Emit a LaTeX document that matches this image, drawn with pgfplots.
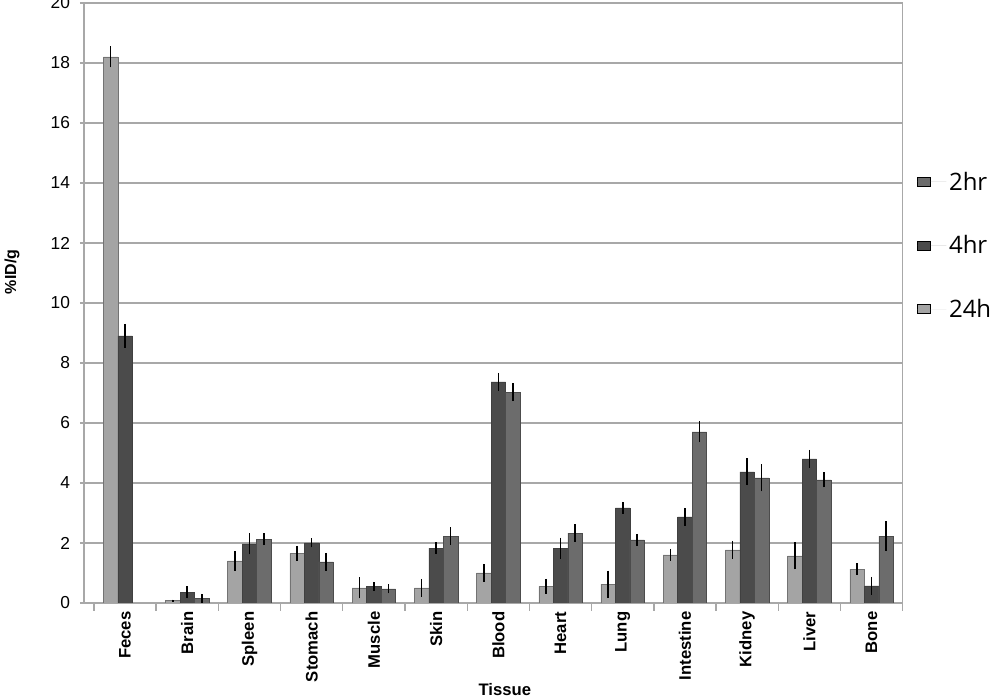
\documentclass[border=0pt]{standalone}
\usepackage{pgfplots}
\usepackage{pgfplotstable}
\pgfplotsset{compat=1.18}
\usepackage{fontspec}
\setmainfont{Liberation Sans}
\newfontfamily\legfont{Open Sans}

\definecolor{lightbar}{HTML}{A4A4A4}
\definecolor{darkbar}{HTML}{4B4B4B}
\definecolor{midbar}{HTML}{6C6C6C}
\definecolor{gridgray}{HTML}{A8A8A8}

% group: a = first (light) bar, b = second (dark), c = third (medium)
\pgfplotstableread{
x  a     ea    b     eb    c     ec
0  18.2  0.35  8.9   0.4   nan   0
1  0.08  0.03  0.35  0.2   0.15  0.15
2  1.4   0.33  1.97  0.35  2.13  0.2
3  1.65  0.25  2.0   0.15  1.37  0.3
4  0.5   0.35  0.55  0.15  0.47  0.15
5  0.5   0.3   1.83  0.2   2.23  0.3
6  1.0   0.3   7.37  0.3   7.03  0.3
7  0.55  0.25  1.83  0.35  2.33  0.3
8  0.63  0.45  3.17  0.2   2.1   0.2
9  1.6   0.2   2.87  0.3   5.7   0.35
10 1.77  0.3   4.37  0.45  4.17  0.45
11 1.57  0.45  4.8   0.3   4.1   0.25
12 1.13  0.2   0.57  0.3   2.23  0.5
}\datatable

\begin{document}
\begin{tikzpicture}
\begin{axis}[
    name=ax, at={(0pt,0pt)}, anchor=south west,
    scale only axis, width=614pt, height=450pt,
    xmin=-0.66, xmax=12.5,
    ymin=0, ymax=20,
    ybar, bar width=0.233,
    ytick={0,2,...,20},
    ymajorgrids=true,
    grid style={gridgray, line width=1.1pt},
    axis line style={gridgray, line width=1.1pt},
    tick align=outside,
    ytick pos=left, xtick pos=bottom,
    major tick length=3pt,
    minor tick length=6pt,
    tick style={gridgray, line width=1pt},
    major x tick style={draw=none},
    xtick={0,...,12},
    minor xtick={-0.5,0.5,...,12.5},
    xticklabels={Feces,Brain,Spleen,Stomach,Muscle,Skin,Blood,Heart,Lung,Intestine,Kidney,Liver,Bone},
    x tick label style={rotate=90, anchor=east, font=\bfseries\fontsize{12.5}{14}\selectfont},
    y tick label style={font=\fontsize{13}{15}\selectfont, xshift=-4pt},
    /pgf/number format/assume math mode=true,
    xlabel={\textbf{Tissue}},
    ylabel={\textbf{\%ID/g}},
    xlabel style={at={(axis description cs:0.514,-0.145)}, anchor=center, font=\fontsize{12.5}{14}\selectfont},
    ylabel style={at={(axis description cs:-0.088,0.552)}, anchor=center, font=\fontsize{12}{14}\selectfont},
    legend style={draw=none, fill=none, at={(axis description cs:1.012,0.728)}, anchor=north west,
        font=\legfont\fontsize{18}{21}\selectfont, row sep=28.5pt},
    legend cell align=left,
    legend image code/.code={\fill[#1] (0pt,-3.5pt) rectangle (10pt,3.5pt); \path[draw=none] (0pt,0pt) -- (22pt,0pt);},
    error bars/error bar style={black, line width=1.2pt},
    error bars/error mark=none,
]
\addlegendimage{fill=midbar}
\addlegendentry{2hr}
\addlegendimage{fill=darkbar}
\addlegendentry{4hr}
\addlegendimage{fill=lightbar}
\addlegendentry{24h}

\addplot[forget plot, bar shift=-0.233, fill=lightbar, draw=black!55,
    error bars/.cd, y dir=both, y explicit]
    table[x=x, y=a, y error=ea] {\datatable};
\addplot[forget plot, bar shift=0, fill=darkbar, draw=black!75,
    error bars/.cd, y dir=both, y explicit]
    table[x=x, y=b, y error=eb] {\datatable};
\addplot[forget plot, bar shift=0.233, fill=midbar, draw=black!70,
    error bars/.cd, y dir=both, y explicit]
    table[x=x, y=c, y error=ec] {\datatable};
\end{axis}
\pgfresetboundingbox
\useasboundingbox (-63pt,-72pt) rectangle (687pt,452.25pt);
\end{tikzpicture}
\end{document}
